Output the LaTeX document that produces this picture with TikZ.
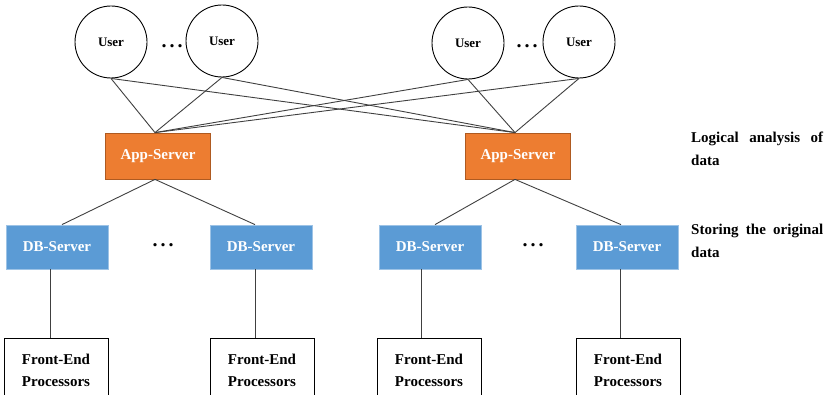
\documentclass[tikz,border=0pt]{standalone}
\usepackage{fontspec}
\setmainfont{Liberation Serif}
\usepackage{tikz}
\usetikzlibrary{positioning}
\definecolor{apporange}{HTML}{ED7D31}
\definecolor{appedge}{HTML}{AE5A21}
\definecolor{dbblue}{HTML}{5B9BD5}
\definecolor{dbedge}{HTML}{9DC3E6}
\definecolor{linkgray}{HTML}{404040}
\tikzset{
  user/.style={circle, draw=black, line width=0.9pt, minimum size=72pt, inner sep=0pt,
    font=\fontsize{13}{15}\selectfont\bfseries},
  appserver/.style={rectangle, fill=apporange, draw=appedge, line width=0.8pt,
    minimum width=105pt, minimum height=46pt, text=white,
    font=\fontsize{15}{18}\selectfont\bfseries},
  dbserver/.style={rectangle, fill=dbblue, draw=dbedge, line width=0.8pt,
    minimum width=102pt, minimum height=44pt, text=white,
    font=\fontsize{15}{18}\selectfont\bfseries},
  frontend/.style={rectangle, draw=black, line width=0.9pt,
    minimum width=104pt, minimum height=64pt, align=center,
    font=\fontsize{15}{22}\selectfont\bfseries},
  note/.style={anchor=north west, inner sep=0pt, text width=132pt, align=justify,
    font=\fontsize{15}{23}\selectfont\bfseries},
  dots/.style={inner sep=0pt, font=\fontsize{20}{22}\selectfont\bfseries},
  link/.style={draw=linkgray, line width=0.9pt}
}
\begin{document}
\begin{tikzpicture}[x=1pt, y=-1pt]
    \useasboundingbox (0,0) rectangle (828,395);

    % Users
    \node[user] (u1) at (111,42) {User};
    \node[user] (u2) at (222,41) {User};
    \node[user] (u3) at (468,43) {User};
    \node[user] (u4) at (579,42) {User};
    \node[dots] (d1) at (172,46) {.\hspace{3pt}.\hspace{3pt}.};
    \node[dots] (d2) at (527,46) {.\hspace{3pt}.\hspace{3pt}.};

    % App servers
    \node[appserver] (app1) at (158,156) {App-Server};
    \node[appserver] (app2) at (518,156) {App-Server};

    % DB servers
    \node[dbserver] (db1) at (57,247) {DB-Server};
    \node[dbserver] (db2) at (261,247) {DB-Server};
    \node[dbserver] (db3) at (430,247) {DB-Server};
    \node[dbserver] (db4) at (627,247) {DB-Server};
    \node[dots] (d3) at (163,245) {.\hspace{3pt}.\hspace{3pt}.};
    \node[dots] (d4) at (533,245) {.\hspace{3pt}.\hspace{3pt}.};

    % Front-end processors
    \node[frontend] (fe1) at (56,370) {Front-End\\Processors};
    \node[frontend] (fe2) at (262,370) {Front-End\\Processors};
    \node[frontend] (fe3) at (429,370) {Front-End\\Processors};
    \node[frontend] (fe4) at (628,370) {Front-End\\Processors};

    % Layer notes
    \node[note] (logic) at (691,132) {Logical analysis of data};
    \node[note] (store) at (691,224) {Storing the original data};

    % Links
    \foreach \u in {u1,u2,u3,u4}
      \foreach \a in {app1,app2}
        \draw[link] (\u.south) -- ([xshift=-3pt]\a.north);
    \draw[link] ([xshift=-3pt]app1.south) -- ([xshift=5pt]db1.north);
    \draw[link] ([xshift=-3pt]app1.south) -- ([xshift=-6pt]db2.north);
    \draw[link] ([xshift=-3pt]app2.south) -- ([xshift=5pt]db3.north);
    \draw[link] ([xshift=-3pt]app2.south) -- ([xshift=-6pt]db4.north);
    \draw[link] ([xshift=-7pt]db1.south) -- ([xshift=-7pt]db1.south |- fe1.north);
    \draw[link] ([xshift=-6pt]db2.south) -- ([xshift=-6pt]db2.south |- fe2.north);
    \draw[link] ([xshift=-9pt]db3.south) -- ([xshift=-9pt]db3.south |- fe3.north);
    \draw[link] ([xshift=-7pt]db4.south) -- ([xshift=-7pt]db4.south |- fe4.north);
\end{tikzpicture}
\end{document}
